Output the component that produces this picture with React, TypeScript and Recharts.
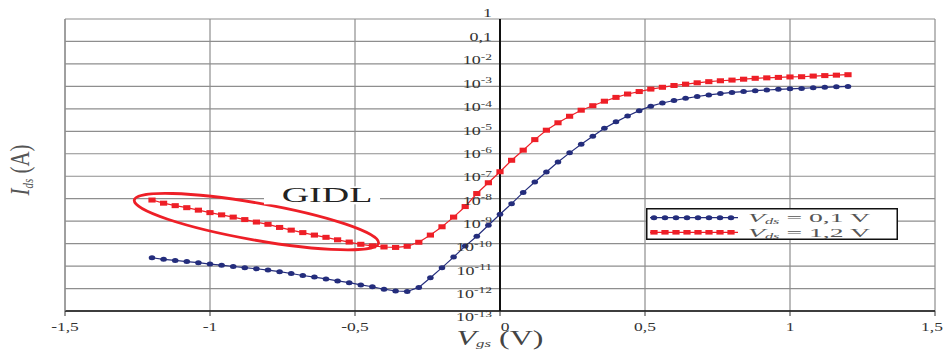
import {
  LineChart,
  Line,
  XAxis,
  YAxis,
  CartesianGrid,
  ReferenceLine,
  ReferenceDot,
} from 'recharts';

// gate voltage sweep (V)
const vgs = [
  -1.2, -1.16, -1.12, -1.08, -1.04, -1, -0.96, -0.92, -0.88, -0.84,
  -0.8, -0.76, -0.72, -0.68, -0.64, -0.6, -0.56, -0.52, -0.48, -0.44,
  -0.4, -0.36, -0.32, -0.28, -0.24, -0.2, -0.16, -0.12, -0.08, -0.04,
  0, 0.04, 0.08, 0.12, 0.16, 0.2, 0.24, 0.28, 0.32, 0.36,
  0.4, 0.44, 0.48, 0.52, 0.56, 0.6, 0.64, 0.68, 0.72, 0.76,
  0.8, 0.84, 0.88, 0.92, 0.96, 1, 1.04, 1.08, 1.12, 1.16, 1.2,
];

// log10(Ids / A) at Vds = 0.1 V
const logIdsLow = [
  -10.63, -10.7, -10.75, -10.8, -10.85, -10.91, -10.96, -11.02, -11.07, -11.12,
  -11.18, -11.25, -11.33, -11.42, -11.49, -11.57, -11.66, -11.74, -11.84, -11.92,
  -12.03, -12.11, -12.13, -11.95, -11.52, -11.07, -10.6, -10.11, -9.67, -9.18,
  -8.69, -8.22, -7.72, -7.26, -6.81, -6.37, -5.96, -5.58, -5.22, -4.86,
  -4.58, -4.32, -4.08, -3.88, -3.74, -3.63, -3.53, -3.45, -3.38, -3.32,
  -3.27, -3.23, -3.19, -3.16, -3.13, -3.11, -3.09, -3.06, -3.04, -3.02, -3.0,
];

// log10(Ids / A) at Vds = 1.2 V
const logIdsHigh = [
  -8.06, -8.2, -8.31, -8.4, -8.51, -8.62, -8.72, -8.82, -8.93, -9.04,
  -9.14, -9.28, -9.4, -9.51, -9.62, -9.72, -9.83, -9.93, -10.03, -10.1,
  -10.15, -10.17, -10.12, -9.94, -9.62, -9.25, -8.82, -8.35, -7.77, -7.29,
  -6.8, -6.29, -5.84, -5.37, -4.95, -4.62, -4.33, -4.06, -3.86, -3.66,
  -3.49, -3.34, -3.23, -3.12, -3.04, -2.96, -2.9, -2.84, -2.79, -2.75,
  -2.72, -2.68, -2.64, -2.62, -2.6, -2.58, -2.57, -2.54, -2.52, -2.5, -2.48,
];

const xTicks = [-1.5, -1, -0.5, 0, 0.5, 1, 1.5];
const yTicks = [0, -1, -2, -3, -4, -5, -6, -7, -8, -9, -10, -11, -12, -13];

const data = vgs.map((v, i) => ({ vgs: v, low: logIdsLow[i], high: logIdsHigh[i] }));

const W = 945;
const H = 351;
const margin = { top: 19, right: 10, left: 64, bottom: 0 };
const zeroX = 65 + (W - 65 - margin.right) / 2;
const SERIF = '"Liberation Serif", "Times New Roman", serif';
const BLUE = '#242d7c';
const RED = '#ee1f27';
// the source figure was stretched sideways, so its text is wide
const SX = 1.5;

function YTick({ y, payload }: any) {
  const v = payload.value as number;
  // labels drift a little lower than the gridlines going down, like the source
  const ty = y - 6 + -v * 0.9;
  return (
    <g transform={`translate(${zeroX - 8},${ty}) scale(${SX},1)`}>
      <text x={0} y={0} textAnchor="end" dominantBaseline="central" fontFamily={SERIF} fontSize={12} fill="#333">
        {v === 0 ? '1' : v === -1 ? '0,1' : (
          <>
            <tspan>10</tspan>
            <tspan dy={-3} fontSize={9}>{String(v)}</tspan>
          </>
        )}
      </text>
    </g>
  );
}

function XTick({ x, y, payload }: any) {
  const label = String(payload.value).replace('.', ',');
  // keep the last label inside the frame
  const cx = Math.min(x + (payload.value === 0 ? 5 : 0), W - 13);
  return (
    <g transform={`translate(${cx},${y + 8}) scale(1.4,1)`}>
      <text x={0} y={0} textAnchor="middle" dominantBaseline="central" fontFamily={SERIF} fontSize={12.5} fill="#333">
        {label}
      </text>
    </g>
  );
}

function BlueDot({ cx, cy }: any) {
  return <ellipse cx={cx} cy={cy} rx={3.3} ry={2.5} fill={BLUE} />;
}

function RedDot({ cx, cy }: any) {
  return <rect x={cx - 3.6} y={cy - 2.5} width={7.2} height={5} fill={RED} />;
}

const legendRows = [
  { label: ' = 0,1 V', color: BLUE, y: 9.7, round: true },
  { label: ' = 1,2 V', color: RED, y: 24.3, round: false },
];

function LegendBox() {
  const marks = [8, 19, 30, 41, 52, 63, 74, 85];
  return (
    <svg
      width={252}
      height={32}
      style={{ position: 'absolute', left: 646, top: 208, overflow: 'visible' }}
    >
      <rect x={0.75} y={0.75} width={250.5} height={30.5} fill="#fff" stroke="#111" strokeWidth={1.5} />
      {legendRows.map((r) => (
        <g key={r.label}>
          <line x1={4} x2={92} y1={r.y} y2={r.y} stroke={r.color} strokeWidth={1.2} />
          {marks.map((x) =>
            r.round ? (
              <ellipse key={x} cx={x} cy={r.y} rx={3.3} ry={2.5} fill={r.color} />
            ) : (
              <rect key={x} x={x - 3.6} y={r.y - 2.3} width={7.2} height={4.6} fill={r.color} />
            ),
          )}
          <g transform={`translate(102,${r.y + 4.3}) scale(2.05,1)`}>
            <text x={0} y={0} fontFamily={SERIF} fontSize={13.5} fill="#555">
              <tspan fontStyle="italic">V</tspan>
              <tspan fontStyle="italic" fontSize={8} dy={2}>ds</tspan>
              <tspan dy={-2}>{r.label}</tspan>
            </text>
          </g>
        </g>
      ))}
    </svg>
  );
}

export default function App() {
  return (
    <div style={{ position: 'relative', width: W, height: H, background: '#fff' }}>
      <style>{'body{margin:0}'}</style>
      <LineChart width={W} height={H} data={data} margin={margin}>
        <CartesianGrid stroke="#8e8e8e" strokeWidth={1.2} />
        <XAxis
          dataKey="vgs"
          type="number"
          domain={[-1.5, 1.5]}
          ticks={xTicks}
          interval={0}
          height={40}
          axisLine={{ stroke: '#111', strokeWidth: 1.5 }}
          tickLine={{ stroke: '#333' }}
          tickSize={5}
          tick={<XTick />}
          label={() => (
            <g transform={`translate(${zeroX},345) scale(1.6,1)`}>
              <text x={0} y={0} textAnchor="middle" fontFamily={SERIF} fontSize={20} fill="#444">
                <tspan fontStyle="italic">V</tspan>
                <tspan fontStyle="italic" fontSize={10.5} dy={2}>gs</tspan>
                <tspan dy={-2}> (V)</tspan>
              </text>
            </g>
          )}
        />
        <YAxis
          type="number"
          domain={[-13, 0]}
          ticks={yTicks}
          interval={0}
          width={1}
          axisLine={{ stroke: '#8e8e8e', strokeWidth: 1.2 }}
          tickLine={false}
          tick={<YTick />}
          label={() => (
            <g transform="translate(29,170) scale(1.25,1) rotate(-90)">
              <text x={0} y={0} textAnchor="middle" fontFamily={SERIF} fontSize={21} fill="#555">
                <tspan fontStyle="italic">I</tspan>
                <tspan fontStyle="italic" fontSize={11} dy={3}>ds</tspan>
                <tspan dy={-3}> (A)</tspan>
              </text>
            </g>
          )}
        />
        <ReferenceLine x={0} stroke="#111" strokeWidth={2} />
        <Line
          dataKey="low"
          stroke={BLUE}
          strokeWidth={1.2}
          dot={<BlueDot />}
          activeDot={false}
          isAnimationActive={false}
        />
        <Line
          dataKey="high"
          stroke={RED}
          strokeWidth={1.2}
          dot={<RedDot />}
          activeDot={false}
          isAnimationActive={false}
        />
        <ReferenceDot
          x={-0.84}
          y={-9.02}
          shape={(p: any) => (
            <ellipse
              cx={p.cx}
              cy={p.cy}
              rx={124}
              ry={18.5}
              transform={`rotate(10 ${p.cx} ${p.cy})`}
              fill="none"
              stroke={RED}
              strokeWidth={2.8}
            />
          )}
        />
        <ReferenceDot
          x={-0.6}
          y={-7.85}
          shape={(p: any) => (
            <g>
              <rect x={p.cx - 62} y={p.cy - 9} width={116} height={18} fill="#fff" />
              <g transform={`translate(${p.cx + 1},${p.cy + 7}) scale(1.9,1)`}>
                <text x={0} y={0} textAnchor="middle" fontFamily={SERIF} fontSize={20} fill="#222">GIDL</text>
              </g>
            </g>
          )}
        />
      </LineChart>
      <LegendBox />
    </div>
  );
}
